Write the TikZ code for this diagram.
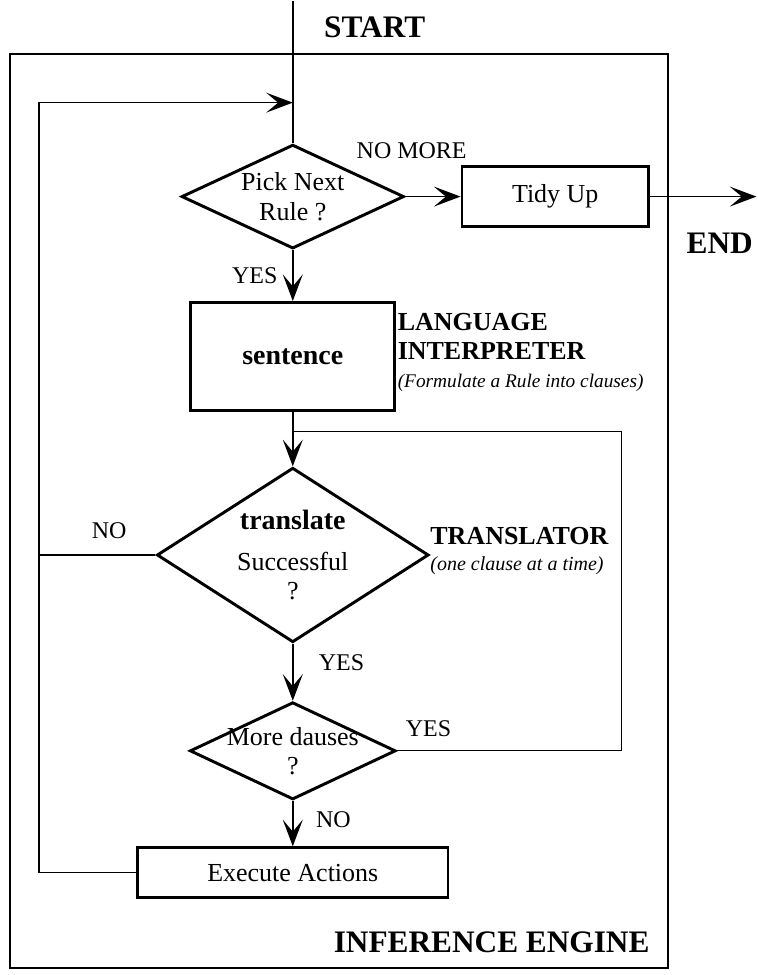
\documentclass[tikz,border=0pt]{standalone}
\usepackage{fontspec}
\setmainfont{Liberation Serif}
\usepackage{tikz}
\usetikzlibrary{shapes,arrows,arrows.meta,positioning}

\begin{document}
\begin{tikzpicture}[x=0.75pt, y=-0.75pt, node distance=120pt, auto,
    >={Stealth[length=20pt, width=15pt, inset=9pt]}]
    % Define styles
    \tikzstyle{decision} = [diamond, aspect=2.14, minimum width=167pt, minimum height=78pt, inner sep=0pt, align=center, text centered, draw=black, line width=2.2pt, font=\fontsize{19.5}{22}\selectfont]
    \tikzstyle{process} = [rectangle, minimum width=140pt, minimum height=45pt, text centered, draw=black, line width=2.2pt, font=\fontsize{19.5}{22}\selectfont]
    \tikzstyle{flow} = [line width=1.1pt]
    \tikzstyle{feedback} = [line width=0.8pt]
    \tikzstyle{answer} = [inner sep=2pt, font=\fontsize{18}{21}\selectfont]
    \tikzstyle{heading} = [font=\bfseries\fontsize{23.5}{27}\selectfont]
    \tikzstyle{module} = [align=left, inner sep=0pt, font=\bfseries\fontsize{19.5}{22}\selectfont]

    % Frame
    \fill[white] (0,0) rectangle (758,975);
    \draw[line width=1.5pt] (10,53) rectangle (668,968);

    % Nodes
    \coordinate (start) at (293,0);
    \node[decision] (pick) at (293,196) {Pick Next\\Rule ?};
    \node[process, right of=pick, node distance=197pt] (tidy) {Tidy Up};
    \node[process, below of=pick, minimum width=153pt, minimum height=81pt, font=\bfseries\fontsize{21}{24}\selectfont] (sentence) {sentence};
    \node[decision, below of=sentence, node distance=149pt, aspect=1.55, minimum width=204pt, minimum height=131pt] (translate) {\textbf{\fontsize{21}{24}\selectfont translate}\\[9pt]Successful\\?};
    \node[decision, below of=translate, node distance=147pt, aspect=2.12, minimum width=154.5pt, minimum height=73pt, inner sep=-6pt] (more) {More dauses\\?};
    \node[process, below of=more, node distance=91.5pt, minimum width=233pt, minimum height=37.5pt] (exec) {Execute Actions};
    \coordinate (finish) at (757,196);
    \coordinate (loopl) at (39,102);
    \coordinate (join) at (293,102);
    \coordinate (fbk) at (622,431);

    % Labels
    \node[heading] (starttxt) at (375,27) {START};
    \node[heading, anchor=east] (endtxt) at (758,243) {END};
    \node[heading] (engine) at (492,942) {INFERENCE ENGINE};
    \node[module, right=1pt of sentence.east, yshift=3pt] (interp) {LANGUAGE\\INTERPRETER\\[-1pt]\itshape\mdseries\fontsize{14.5}{17}\selectfont (Formulate a Rule into clauses)};
    \node[module, right=0pt of translate.east, yshift=3pt] (translator) {TRANSLATOR\\[-2pt]\itshape\mdseries\fontsize{15}{17}\selectfont (one clause at a time)};

    % Connections
    \draw[flow] (start) -- (pick.north);
    \draw[flow,->] (pick.east) -- node[answer, above=26pt, xshift=-16pt] {NO MORE} (tidy.west);
    \draw[flow,->] (tidy.east) -- (finish);
    \draw[flow,->] (pick.south) -- node[answer, left=9pt] {YES} (sentence.north);
    \draw[flow,->] (sentence.south) -- (translate.north);
    \draw[flow,->] (translate.south) -- node[answer, right=17pt, yshift=7pt] {YES} (more.north);
    \draw[flow,->] (more.south) -- node[answer, right=15pt, yshift=3pt] {NO} (exec.north);
    \draw[feedback] (more.east) -- node[answer, pos=0.14, above=8pt] {YES} (more.east -| fbk) -- (fbk) -- (fbk -| sentence.south);
    \draw[flow] (translate.west) -- node[answer, above=10pt, xshift=9pt] {NO} (translate.west -| loopl);
    \draw[flow,->] (exec.west) -| (loopl) -- (join);
\end{tikzpicture}
\end{document}
